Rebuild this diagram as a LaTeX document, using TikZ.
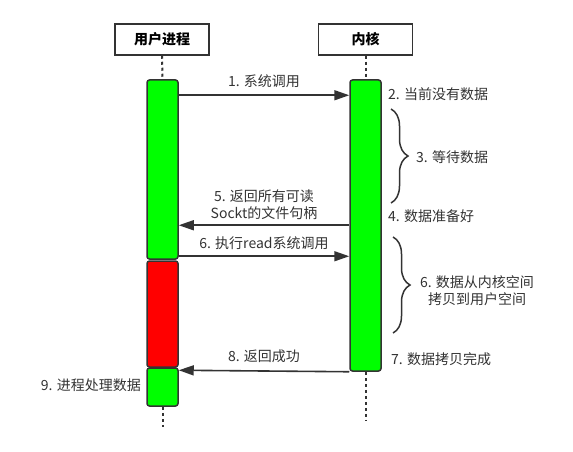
\documentclass[tikz,border=0pt]{standalone}
\usepackage{fontspec}
\newfontfamily\cjk{Noto Sans CJK SC}
\usetikzlibrary{arrows.meta,decorations.pathreplacing}
\definecolor{ink}{HTML}{333333}
\definecolor{txt}{HTML}{333333}
\definecolor{barg}{HTML}{00FF00}
\definecolor{barr}{HTML}{FF0000}
\tikzset{
  hdr/.style={draw=ink,line width=1.5pt,minimum width=94pt,minimum height=31pt,inner sep=0pt,font=\cjk\bfseries\fontsize{14}{17}\selectfont,text=black},
  bar/.style={draw=ink,line width=1.5pt,rounded corners=2.5pt,minimum width=31pt,inner sep=0pt},
  life/.style={draw=ink,line width=2pt,dash pattern=on 3pt off 3pt},
  msg/.style={draw=ink,line width=1.6pt,-{Triangle[length=15pt,width=10pt]}},
  lbl/.style={font=\cjk\fontsize{14}{17}\selectfont,text=txt,inner sep=0pt,align=center},
  brc/.style={draw=ink,line width=1.5pt,decorate,decoration={brace,amplitude=17pt}}
}
\begin{document}
\begin{tikzpicture}[x=1pt,y=-1pt]
\useasboundingbox (0,0) rectangle (573,452);
\fill[white] (0,0) rectangle (573,452);
% headers
\node[hdr] (hu) at (162,39.5) {用户进程};
\node[hdr] (hk) at (365.5,39.5) {内核};
% bars
\node[bar,fill=barg,minimum height=179pt] (lb1) at (162.5,169.5) {};
\node[bar,fill=barr,minimum height=106pt] (lr) at (162.5,314) {};
\node[bar,fill=barg,minimum height=38pt] (lb2) at (162.5,387) {};
\node[bar,fill=barg,minimum height=291pt] (rb) at (365.5,225.5) {};
% lifelines
\coordinate (le) at (162.5,427);
\coordinate (re) at (365.5,421);
\draw[life] (hu.south) -- (lb1.north);
\draw[life] (hk.south) -- (rb.north);
\draw[life] (lb2.south) -- (le);
\draw[life] (rb.south) -- (re);
% messages
\draw[msg] ([yshift=-16pt]lb1.north east) -- ([yshift=-16pt]rb.north west)
  node[lbl,midway,above=7pt] (m1) {1. 系统调用};
\draw[msg] ([yshift=-146pt]rb.north west) -- ([yshift=-146pt]lb1.north east)
  node[lbl,midway,above=5pt] (m5) {5. 返回所有可读\\Sockt的文件句柄};
\draw[msg] ([yshift=-177pt]lb1.north east) -- ([yshift=-177pt]rb.north west)
  node[lbl,midway,above=6pt] (m6) {6. 执行read系统调用};
\draw[msg] (rb.south west) -- ([yshift=-3pt]lb2.north east)
  node[lbl,midway,above=7pt] (m8) {8. 返回成功};
% braces
\coordinate (b3a) at (391,109);
\coordinate (b3b) at (391,203);
\draw[brc] (b3a) -- (b3b);
\coordinate (b6a) at (393,237);
\coordinate (b6b) at (393,333);
\draw[brc] (b6a) -- (b6b);
% side labels
\node[lbl,anchor=west] (t2) at (388,94) {2. 当前没有数据};
\node[lbl,anchor=west] (t3) at (416,157) {3. 等待数据};
\node[lbl,anchor=west] (t4) at (388,216) {4. 数据准备好};
\node[lbl] (t6) at (477,291) {6. 数据从内核空间\\拷贝到用户空间};
\node[lbl,anchor=west] (t7) at (391,359) {7. 数据拷贝完成};
\node[lbl,anchor=east] (t9) at (141,385) {9. 进程处理数据};
\end{tikzpicture}
\end{document}
